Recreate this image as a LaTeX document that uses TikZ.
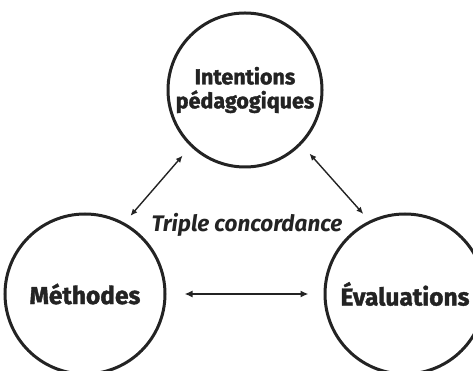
\documentclass[tikz,border=0pt]{standalone}
\usepackage{fontspec}
\setmainfont{Fira Sans}[BoldFeatures={FakeBold=1.6}]
\usepackage{tikz}
\usetikzlibrary{arrows.meta}
\definecolor{inkgray}{HTML}{232323}
\tikzset{
  poolnode/.style={circle,draw=inkgray,line width=3pt,inner sep=0pt,
    text=inkgray,font=\bfseries\fontsize{24.5}{26}\selectfont,align=center},
  linkedge/.style={inkgray,line width=1.4pt,{Latex[length=7pt,width=6pt]}-{Latex[length=7pt,width=6pt]}},
  mainedge/.style={inkgray,line width=2.4pt,{Latex[length=8pt,width=7pt]}-{Latex[length=8pt,width=7pt]}}
}
\begin{document}
\begin{tikzpicture}[x=1pt,y=1pt]
  \useasboundingbox (0,0) rectangle (473,371);
  \clip (0,0) rectangle (473,371);
  \node[poolnode,minimum size=154pt,font=\bfseries\fontsize{21.5}{24}\selectfont]
    (intentions) at (245,281) {Intentions\\p\'edagogiques};
  \node[poolnode,minimum size=160pt] (methodes) at (85,77) {M\'ethodes};
  \node[poolnode,minimum size=160pt] (evaluations) at (405,77) {\'Evaluations};

  \node[text=inkgray,font=\bfseries\itshape\fontsize{22.5}{24}\selectfont]
    (concordance) at (247,146) {Triple concordance};

  \draw[linkedge,shorten <=12pt,shorten >=9pt] (intentions.226) -- (methodes.61);
  \draw[linkedge,shorten <=12pt,shorten >=9pt] (intentions.316) -- (evaluations.116);
  \draw[mainedge,shorten <=18pt,shorten >=15pt] (methodes.east) -- (evaluations.west);
\end{tikzpicture}
\end{document}
